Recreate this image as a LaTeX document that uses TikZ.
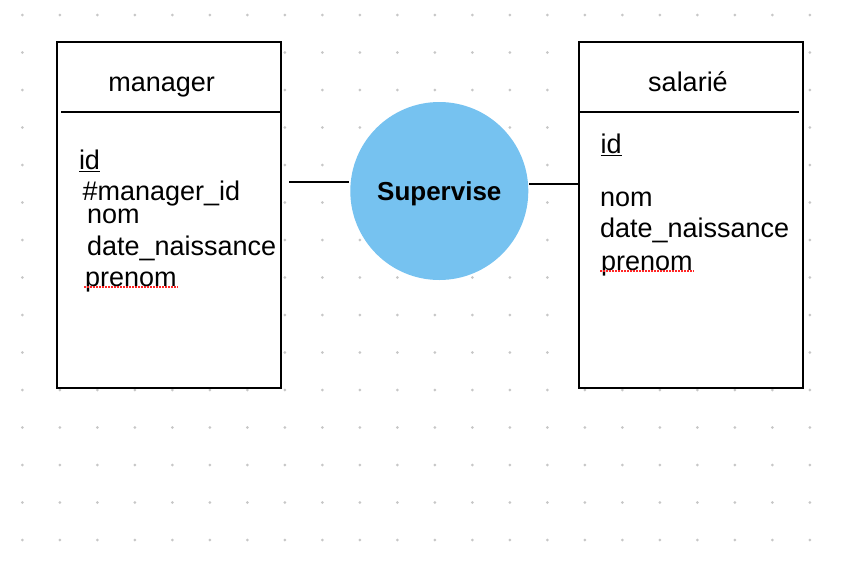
\documentclass[tikz,border=0pt]{standalone}
\usepackage{fontspec}
\setmainfont{Liberation Sans}
\definecolor{supblue}{HTML}{76C2F0}
\begin{document}
\begin{tikzpicture}[x=1pt,y=-1pt,line width=2pt,
	entity/.style={draw,fill=white,minimum width=224pt,minimum height=346pt,inner sep=0pt},
	relation/.style={circle,fill=supblue,minimum size=178pt,inner sep=0pt,text depth=0pt,font=\fontsize{26}{30}\selectfont\bfseries},
	title/.style={anchor=base,inner sep=0pt,font=\fontsize{27}{32}\selectfont},
	attr/.style={anchor=base west,inner sep=0pt,font=\fontsize{27}{32}\selectfont},
	griddot/.style={fill=black!22},
	spell/.style={draw=red!85,line width=1.3pt,dash pattern=on 1.5pt off 1.5pt}]
	\useasboundingbox (0,0) rectangle (842,560);
	\foreach \i in {0,...,21}
		\foreach \j in {0,...,14}
			\fill[griddot] (22.3+37.5*\i,15+37.5*\j) circle (1.5pt);
	\node[entity] (manager) at (169,215) {};
	\node[entity] (salarie) at (691,215) {};
	\draw ([xshift=5pt,yshift=-71pt]manager.north west) -- ([yshift=-71pt]manager.north east);
	\draw ([yshift=-70.5pt]salarie.north west) -- ([xshift=-5pt,yshift=-70.5pt]salarie.north east);
	\node[relation] (sup) at (439.3,191) {Supervise};
	\coordinate (ml) at ([yshift=9.3pt]sup.west);
	\draw ([xshift=7pt]ml -| manager.east) -- (ml);
	\draw ([yshift=7pt]sup.east) -- ([yshift=7pt]sup.east -| salarie.west);
	\node[title] (mgr-title) at (161.7,91.7) {manager};
	\node[title] (sal-title) at (688,91.7) {salarié};
	\node[attr] (m-id) at (78,169.3) {\underline{id}};
	\node[attr] (m-mid) at (81.5,200.5) {\#manager\_id};
	\node[attr] (m-nom) at (86,223.3) {nom};
	\node[attr] (m-date) at (86,255) {date\_naissance};
	\node[attr] (m-pre) at (84,286) {prenom};
	\node[attr] (s-id) at (599.5,153.3) {\underline{id}};
	\node[attr] (s-nom) at (599,206.7) {nom};
	\node[attr] (s-date) at (599,237.3) {date\_naissance};
	\node[attr] (s-pre) at (600,270) {prenom};
	\draw[spell] ([yshift=-1pt]m-pre.base west) -- ([yshift=-1pt]m-pre.base east);
	\draw[spell] ([yshift=-1pt]s-pre.base west) -- ([yshift=-1pt]s-pre.base east);
\end{tikzpicture}
\end{document}
